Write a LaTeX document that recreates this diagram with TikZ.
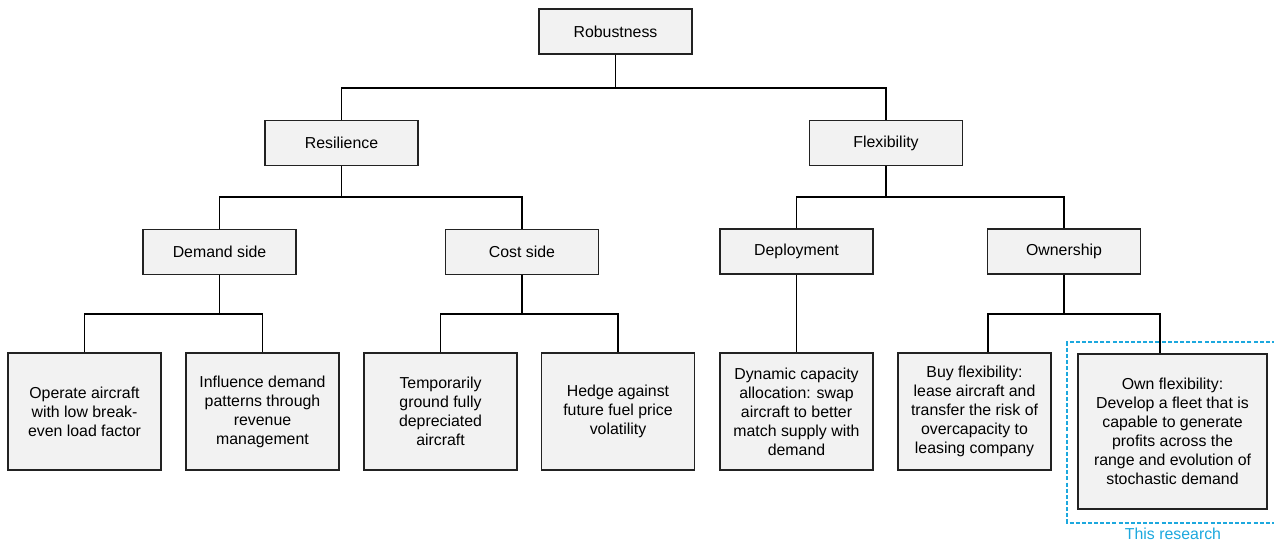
\documentclass[tikz,border=0pt]{standalone}
\usepackage{fontspec}
\setmainfont{Liberation Sans}
\definecolor{boxfill}{HTML}{F2F2F2}
\definecolor{boxline}{HTML}{222222}
\definecolor{scopeblue}{RGB}{28,168,222}
\begin{document}
\begin{tikzpicture}[x=0.75pt,y=-0.75pt,
  font=\fontsize{11.9}{14.3}\selectfont,
  box/.style={draw=boxline,fill=boxfill,line width=1pt,inner sep=2pt,
    minimum width=114.75pt,minimum height=33.75pt,align=center},
  leaf/.style={box,minimum height=87.75pt},
  link/.style={draw=black,line width=1pt}]
\useasboundingbox (0,0) rectangle (1274,542);

% research scope marker (open on the right)
\draw[scopeblue,line width=0.9pt,dash pattern=on 3pt off 1.6pt]
  (1276,342) -- (1067,342) -- (1067,523) -- (1276,523);
\node[scopeblue,anchor=base] (scope) at (1173,539) {This research};

% levels
\node[box] (rob) at (615.5,31.5) {Robustness};
\node[box] (res) at (341.5,143) {Resilience};
\node[box] (flex) at (886,143) {Flexibility};
\node[box] (dem) at (219.5,252) {Demand side};
\node[box] (cost) at (522,252) {Cost side};
\node[box] (dep) at (796.5,251.5) {Deployment};
\node[box] (own) at (1064,251.5) {Ownership};

% leaves
\node[leaf] (l1) at (84.5,411.5) {Operate aircraft\\with low break-\\even load factor};
\node[leaf] (l2) at (262.5,411.5) {Influence demand\\patterns through\\revenue\\management};
\node[leaf] (l3) at (440.5,411.5) {Temporarily\\ground fully\\depreciated\\aircraft};
\node[leaf] (l4) at (618,411.5) {Hedge against\\future fuel price\\volatility};
\node[leaf] (l5) at (796.5,411.5) {Dynamic capacity\\allocation: swap\\aircraft to better\\match supply with\\demand};
\node[leaf] (l6) at (974.5,411.5) {Buy flexibility:\\lease aircraft and\\transfer the risk of\\overcapacity to\\leasing company};
\node[leaf,minimum width=141.75pt,minimum height=116.25pt] (l7) at (1172.5,431.5) {Own flexibility:\\Develop a fleet that is\\capable to generate\\profits across the\\range and evolution of\\stochastic demand};

% bus junctions
\coordinate (b0) at (615.5,88);
\coordinate (b1) at (341.5,197);
\coordinate (b2) at (886,197);
\coordinate (b3) at (219.5,314);
\coordinate (b4) at (522,314);
\coordinate (b6) at (1064,314);
\coordinate (t6) at ([xshift=10.1pt]l6.north);
\coordinate (t7) at ([xshift=-9.4pt]l7.north);

% connectors
\draw[link] (rob.south) -- (b0);
\draw[link] (res.north) |- (b0) -| (flex.north);
\draw[link] (res.south) -- (b1);
\draw[link] (dem.north) |- (b1) -| (cost.north);
\draw[link] (flex.south) -- (b2);
\draw[link] (dep.north) |- (b2) -| (own.north);
\draw[link] (dem.south) -- (b3);
\draw[link] (l1.north) |- (b3) -| (l2.north);
\draw[link] (cost.south) -- (b4);
\draw[link] (l3.north) |- (b4) -| (l4.north);
\draw[link] (dep.south) -- (l5.north);
\draw[link] (own.south) -- (b6);
\draw[link] (t6) |- (b6) -| (t7);
\end{tikzpicture}
\end{document}
